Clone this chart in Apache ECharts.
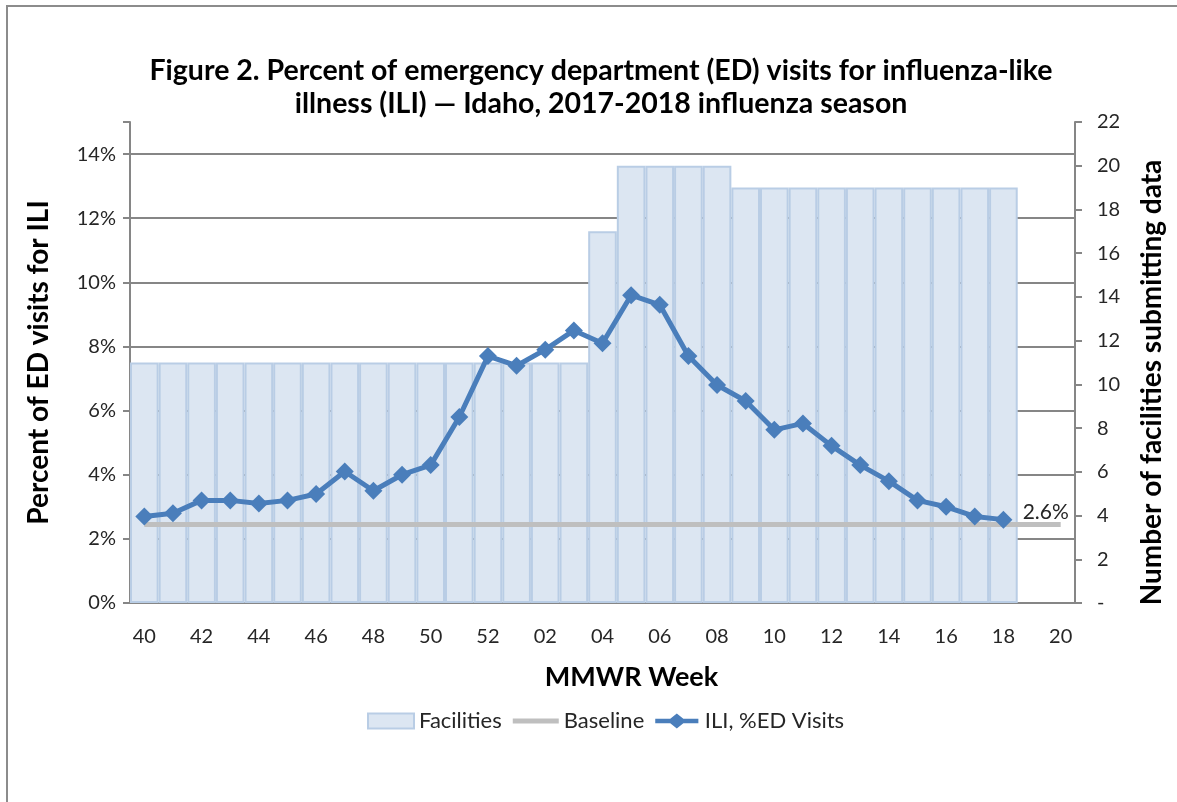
<!DOCTYPE html>
<html>
<head>
<meta charset="utf-8">
<script src="https://cdn.jsdelivr.net/npm/echarts@6/dist/echarts.min.js"></script>
<style>
  html, body { margin: 0; padding: 0; background: #fff; }
  #chart { width: 1177px; height: 802px; }
</style>
</head>
<body>
<div id="chart"></div>
<script>
// MMWR weeks, 2017-2018 season
const weeks = ['40', '41', '42', '43', '44', '45', '46', '47', '48', '49', '50', '51', '52',
  '01', '02', '03', '04', '05', '06', '07', '08', '09', '10', '11', '12', '13', '14', '15',
  '16', '17', '18', '19', '20'];

// number of facilities submitting data (right axis)
const facilities = [11, 11, 11, 11, 11, 11, 11, 11, 11, 11, 11, 11, 11,
  11, 11, 11, 17, 20, 20, 20, 20, 19, 19, 19, 19, 19, 19, 19,
  19, 19, 19, null, null];

// ILI percent of ED visits (left axis)
const ili = [2.7, 2.8, 3.2, 3.2, 3.1, 3.2, 3.4, 4.1, 3.5, 4.0, 4.3, 5.8, 7.7,
  7.4, 7.9, 8.5, 8.1, 9.6, 9.3, 7.7, 6.8, 6.3, 5.4, 5.6, 4.9, 4.3, 3.8, 3.2,
  3.0, 2.7, 2.6, null, null];

// seasonal baseline
const baseline = weeks.map(() => 2.45);

const font = 'Lato, "Open Sans", sans-serif';
const textColor = '#262626';
const axisGray = '#868686';

const chart = echarts.init(document.getElementById('chart'));

chart.setOption({
  animation: false,
  textStyle: { fontFamily: font },
  graphic: [{
    type: 'rect',
    shape: { x: 7, y: 6, width: 1200, height: 900 },
    style: { fill: 'none', stroke: '#8c8c8c', lineWidth: 2 },
    silent: true
  }],
  title: {
    text: 'Figure 2. Percent of emergency department (ED) visits for influenza-like\nillness (ILI) — Idaho, 2017-2018 influenza season',
    left: 596,
    top: 49,
    textAlign: 'center',
    textStyle: { fontSize: 28.5, fontWeight: 'bold', color: '#000', lineHeight: 33, fontFamily: font }
  },
  legend: {
    bottom: 65,
    left: 362,
    itemWidth: 46,
    itemHeight: 15,
    itemGap: 11,
    textStyle: { fontSize: 22, color: textColor, fontFamily: font },
    data: [
      { name: 'Facilities', icon: 'rect' },
      { name: 'Baseline', icon: 'path://M0,5.5h46v5h-46z' },
      { name: 'ILI, %ED Visits', icon: 'path://M0,5.5h16l7,-5.5l7,5.5h16v5h-16l-7,5.5l-7,-5.5h-16z' }
    ]
  },
  grid: { left: 130, right: 102, top: 122, bottom: 199 },
  xAxis: {
    type: 'category',
    data: weeks,
    boundaryGap: true,
    name: 'MMWR Week',
    nameLocation: 'middle',
    nameGap: 61,
    nameTextStyle: { fontSize: 27, fontWeight: 'bold', color: '#000', padding: [0, 0, 0, 58] },
    axisLine: { lineStyle: { color: axisGray, width: 2 } },
    axisTick: { interval: 0, length: 7, lineStyle: { color: axisGray, width: 2 } },
    axisLabel: { interval: 1, margin: 24, fontSize: 20, color: textColor }
  },
  yAxis: [{
    type: 'value',
    min: 0,
    max: 15,
    interval: 2,
    name: 'Percent of ED visits for ILI',
    nameLocation: 'middle',
    nameGap: 77,
    nameTextStyle: { fontSize: 28, fontWeight: 'bold', color: '#000' },
    axisLine: { show: true, lineStyle: { color: axisGray, width: 2 } },
    axisTick: { show: true, length: 7, lineStyle: { color: axisGray, width: 2 } },
    axisLabel: {
      fontSize: 20, color: textColor, margin: 14,
      formatter: v => (v === 15 ? '' : v + '%')
    },
    splitLine: { show: true, showMaxLine: false, lineStyle: { color: axisGray, width: 2 } }
  }, {
    type: 'value',
    min: 0,
    max: 22,
    interval: 2,
    position: 'right',
    name: 'Number of facilities submitting data',
    nameLocation: 'middle',
    nameGap: 63,
    nameTextStyle: { fontSize: 28, fontWeight: 'bold', color: '#000', padding: [0, 40, 0, 0] },
    axisLine: { show: true, lineStyle: { color: axisGray, width: 2 } },
    axisTick: { show: true, length: 7, lineStyle: { color: axisGray, width: 2 } },
    axisLabel: {
      fontSize: 20, color: textColor, margin: 22,
      formatter: v => (v === 0 ? '-' : String(v))
    },
    splitLine: { show: false }
  }],
  series: [{
    name: 'Facilities',
    type: 'bar',
    yAxisIndex: 1,
    data: facilities,
    barCategoryGap: '0%',
    itemStyle: { color: '#dce6f2', borderColor: '#b9cde5', borderWidth: 2 },
    z: 1
  }, {
    name: 'Baseline',
    type: 'line',
    data: baseline,
    symbol: 'none',
    lineStyle: { color: '#bfbfbf', width: 5 },
    itemStyle: { color: '#bfbfbf' },
    z: 3,
    endLabel: {
      show: true,
      formatter: '2.6%',
      fontSize: 21,
      color: textColor,
      offset: [-46, -12]
    }
  }, {
    name: 'ILI, %ED Visits',
    type: 'line',
    data: ili,
    symbol: 'diamond',
    symbolSize: 18,
    lineStyle: { color: '#4a7ebb', width: 5 },
    itemStyle: { color: '#4a7ebb' },
    z: 4
  }]
});
</script>
</body>
</html>
